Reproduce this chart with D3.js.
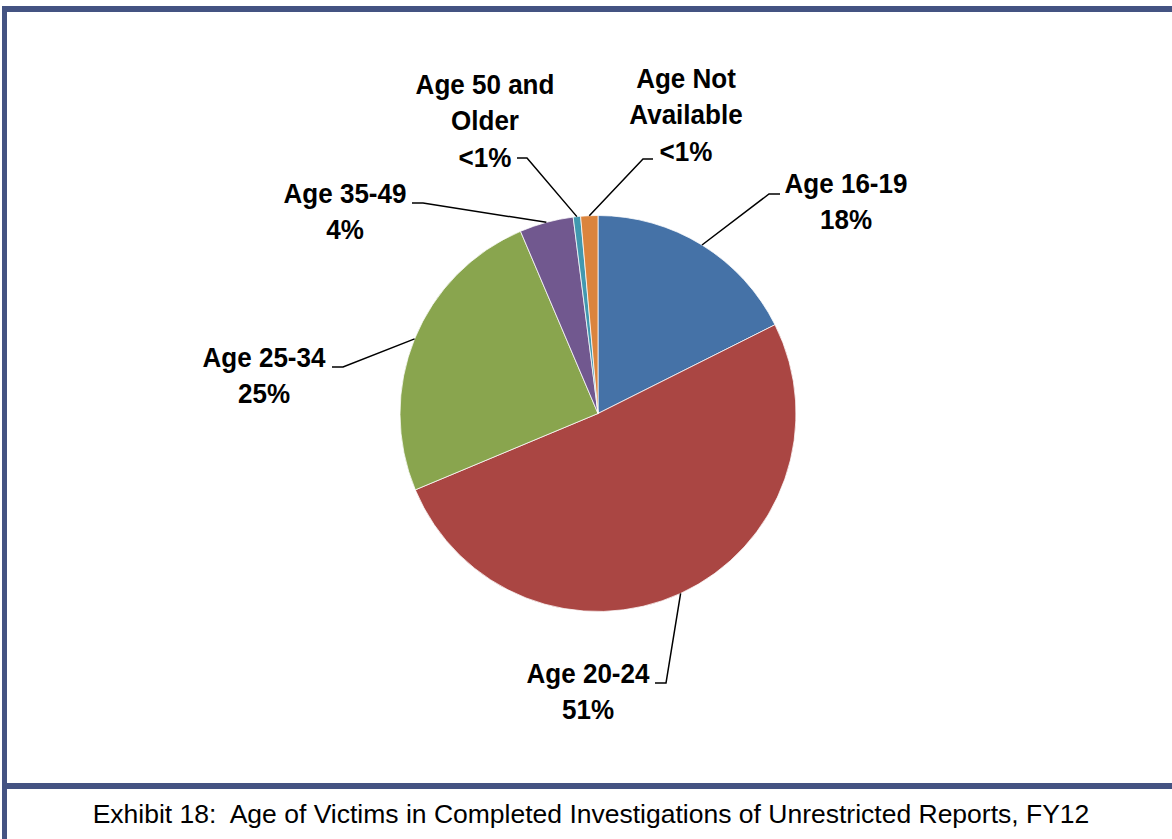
<!DOCTYPE html>
<html>
<head>
<meta charset="utf-8">
<script src="https://cdnjs.cloudflare.com/ajax/libs/d3/7.8.5/d3.min.js"></script>
<style>
    html, body { margin: 0; padding: 0; background: #fff; }
    svg { display: block; }
</style>
</head>
<body>
<div id="chart"></div>
<script>

// chart data
var categories = ["Age 16-19", "Age 20-24", "Age 25-34", "Age 35-49", "Age 50 and Older", "Age Not Available"];
var values = [17.6, 51.1, 24.9, 4.4, 0.6, 1.4];
var labelLines = [
    ["Age 16-19", "18%"],
    ["Age 20-24", "51%"],
    ["Age 25-34", "25%"],
    ["Age 35-49", "4%"],
    ["Age 50 and", "Older", "<1%"],
    ["Age Not", "Available", "<1%"]
];
var colors = ["#4572A7", "#AA4643", "#89A54E", "#71588F", "#4198AF", "#DB843D"];
var caption = "Exhibit 18:  Age of Victims in Completed Investigations of Unrestricted Reports, FY12";

// label layout: text centre, first baseline, and the elbow of the leader line
var labelLayout = [
    {x: 846, y: 193, p0: [780, 194], p1: [769, 194]},
    {x: 588, y: 683, p0: [655, 683], p1: [666, 683]},
    {x: 264, y: 367, p0: [332, 367], p1: [343, 367]},
    {x: 345, y: 203, p0: [412, 203], p1: [423, 203]},
    {x: 485, y: 94,  p0: [517, 158], p1: [527, 158]},
    {x: 686, y: 88,  p0: [653, 159], p1: [643, 159]}
];

var width = 1172;
var height = 839;
var frameColor = "#445382";

var cx = 598;
var cy = 413.5;
var radius = 198;
var lineHeight = 36.5;
// the original labels use a narrow bold face
var narrow = 0.93;

var svg = d3.select("#chart")
    .append("svg")
    .attr("width", width)
    .attr("height", height);

// frame
svg.append("rect")
    .attr("x", 2).attr("y", 6)
    .attr("width", width - 2).attr("height", 6)
    .attr("fill", frameColor);

svg.append("rect")
    .attr("x", 2).attr("y", 6)
    .attr("width", 5).attr("height", height - 6)
    .attr("fill", frameColor);

svg.append("rect")
    .attr("x", 2).attr("y", 783)
    .attr("width", width - 2).attr("height", 6)
    .attr("fill", frameColor);

// pie
var slices = d3.pie()
    .sort(null)
    .value(function(d) { return d; })
    (values);

var arc = d3.arc()
    .innerRadius(0)
    .outerRadius(radius);

// zero-width arc used to find the point on the rim at each slice's middle
var rimArc = d3.arc()
    .innerRadius(radius)
    .outerRadius(radius);

var g = svg.append("g")
    .attr("transform", "translate(" + cx + "," + cy + ")");

g.selectAll(".slice")
    .data(slices)
    .enter()
    .append("path")
    .attr("class", "slice")
    .attr("d", arc)
    .attr("fill", function(d, i) { return colors[i]; })
    .attr("stroke", "#fff")
    .attr("stroke-width", 0.75);

// leader lines
svg.selectAll(".leader")
    .data(slices)
    .enter()
    .append("polyline")
    .attr("class", "leader")
    .attr("fill", "none")
    .attr("stroke", "#000")
    .attr("stroke-width", 1.5)
    .attr("points", function(d, i) {
        var c = rimArc.centroid(d);
        var l = labelLayout[i];
        return [l.p0, l.p1, [c[0] + cx, c[1] + cy]].map(function(p) { return p.join(","); }).join(" ");
    });

// labels
var labels = svg.selectAll(".slice-label")
    .data(slices)
    .enter()
    .append("text")
    .attr("class", "slice-label")
    .attr("transform", function(d, i) {
        return "translate(" + labelLayout[i].x + ",0) scale(" + narrow + ",1)";
    })
    .attr("text-anchor", "middle")
    .attr("font-family", "'Liberation Sans', Arial, sans-serif")
    .attr("font-weight", "bold")
    .attr("font-size", "28px")
    .attr("fill", "#000");

labels.selectAll("tspan")
    .data(function(d, i) {
        return labelLines[i].map(function(t) { return {text: t, l: labelLayout[i]}; });
    })
    .enter()
    .append("tspan")
    .attr("x", 0)
    .attr("y", function(d, j) { return d.l.y + j * lineHeight; })
    .text(function(d) { return d.text; });

// caption
svg.append("text")
    .attr("x", 591)
    .attr("y", 823)
    .attr("text-anchor", "middle")
    .attr("font-family", "'Liberation Sans', Arial, sans-serif")
    .attr("font-size", "26.5px")
    .attr("fill", "#000")
    .style("white-space", "pre")
    .text(caption);

</script>
</body>
</html>
